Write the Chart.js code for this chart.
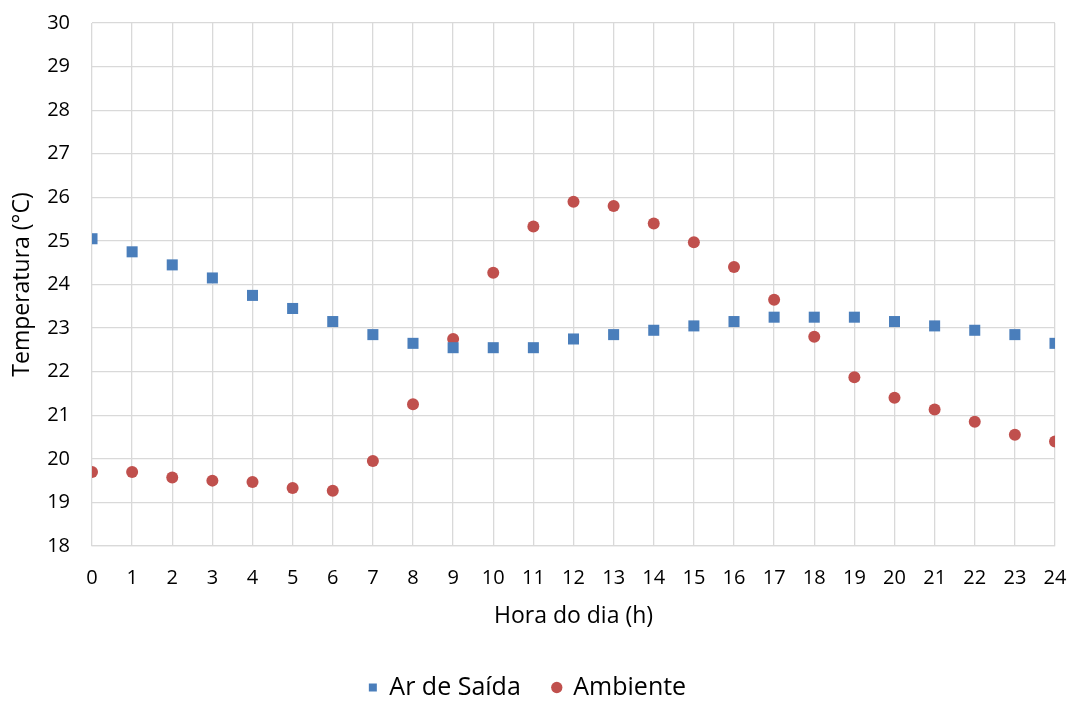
<!DOCTYPE html>
<html>
<head>
<meta charset="utf-8">
<script src="https://cdn.jsdelivr.net/npm/chart.js@4"></script>
<style>
  html, body { margin: 0; padding: 0; background: #fff; }
  #wrap { width: 1076px; height: 702px; }
</style>
</head>
<body>
<div id="wrap"><canvas id="grafico"></canvas></div>
<script>
// Dados
const HORAS = [0,1,2,3,4,5,6,7,8,9,10,11,12,13,14,15,16,17,18,19,20,21,22,23,24];
const AR_SAIDA = [25.05,24.75,24.45,24.15,23.75,23.45,23.15,22.85,22.65,22.55,22.55,22.55,22.75,22.85,22.95,23.05,23.15,23.25,23.25,23.25,23.15,23.05,22.95,22.85,22.65];
const AMBIENTE = [19.7,19.7,19.57,19.5,19.47,19.33,19.27,19.95,21.25,22.75,24.27,25.33,25.9,25.8,25.4,24.97,24.4,23.65,22.8,21.87,21.4,21.13,20.85,20.55,20.4];

const FONTE = '"Open Sans", "Liberation Sans", sans-serif';
const GRADE = '#d9d9d9';

const pontos = (ys) => HORAS.map((x, i) => ({ x, y: ys[i] }));

new Chart(document.getElementById('grafico'), {
  type: 'scatter',
  data: {
    datasets: [
      {
        label: 'Ar de Saída',
        data: pontos(AR_SAIDA),
        pointStyle: 'rect',
        pointRadius: 7.8,
        pointHoverRadius: 7.8,
        backgroundColor: '#4a7ebb',
        borderColor: '#4a7ebb',
        borderWidth: 0,
      },
      {
        label: 'Ambiente',
        data: pontos(AMBIENTE),
        pointStyle: 'circle',
        pointRadius: 6,
        pointHoverRadius: 6,
        backgroundColor: '#c0504d',
        borderColor: '#c0504d',
        borderWidth: 0,
      }
    ]
  },
  options: {
    responsive: true,
    maintainAspectRatio: false,
    animation: false,
    layout: { padding: { top: 23, right: 21, left: 0, bottom: -8 } },
    plugins: {
      tooltip: { enabled: false },
      legend: {
        position: 'bottom',
        labels: {
          usePointStyle: true,
          boxWidth: 8,
          boxHeight: 8,
          padding: 32,
          color: '#000',
          font: { family: FONTE, size: 25 }
        }
      }
    },
    scales: {
      x: {
        type: 'linear',
        min: 0,
        max: 24,
        ticks: { stepSize: 1, color: '#000', padding: 0, font: { family: FONTE, size: 20 } },
        grid: { color: GRADE, lineWidth: 1.3, drawTicks: true, tickLength: 20, tickColor: 'rgba(0,0,0,0)' },
        border: { color: GRADE, width: 1.3 },
        title: { display: true, text: 'Hora do dia (h)', color: '#000', padding: { top: 0, bottom: 13 }, font: { family: FONTE, size: 23 } },
        afterFit: (s) => { s.height = 97; }
      },
      y: {
        min: 18,
        max: 30,
        ticks: { stepSize: 1, color: '#000', padding: 0, font: { family: FONTE, size: 20 } },
        grid: { color: GRADE, lineWidth: 1.3, drawTicks: true, tickLength: 22, tickColor: 'rgba(0,0,0,0)' },
        border: { display: false },
        title: { display: true, text: 'Temperatura (°C)', color: '#000', padding: { top: 9, bottom: 0 }, font: { family: FONTE, size: 23 } },
        afterFit: (s) => { s.width = 92; }
      }
    }
  }
});
</script>
</body>
</html>
